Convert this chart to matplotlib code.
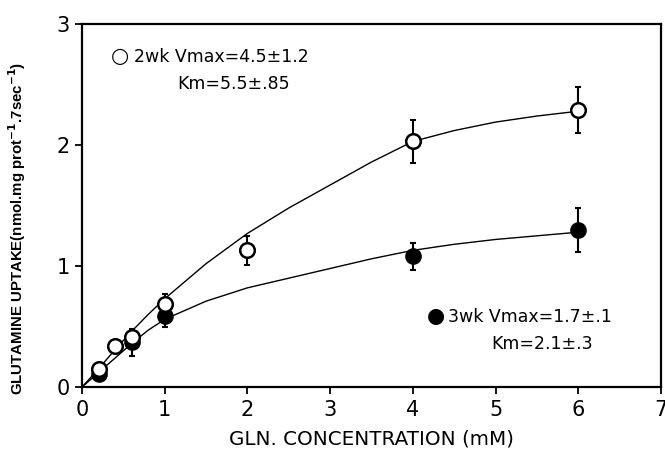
import numpy as np
import matplotlib.pyplot as plt

plt.rcParams['font.family'] = ['DejaVu Sans']

# measured points (mean, SE)
conc_2wk = [0.2, 0.4, 0.6, 1.0, 2.0, 4.0, 6.0]
uptake_2wk = [0.15, 0.34, 0.41, 0.69, 1.13, 2.03, 2.29]
err_2wk = [0.03, 0.02, 0.06, 0.08, 0.12, 0.18, 0.19]

conc_3wk = [0.2, 0.6, 1.0, 4.0, 6.0]
uptake_3wk = [0.11, 0.37, 0.59, 1.08, 1.30]
err_3wk = [0.03, 0.11, 0.09, 0.11, 0.18]

# fitted curves
fit_x = [0.0, 0.2, 0.4, 0.6, 0.8, 1.0, 1.5, 2.0, 2.5, 3.0, 3.5, 4.0, 4.5, 5.0, 5.5, 6.0]
fit_2wk = [0.0, 0.15, 0.31, 0.46, 0.60, 0.73, 1.02, 1.27, 1.48, 1.67, 1.86, 2.03, 2.12, 2.19, 2.24, 2.28]
fit_3wk = [0.0, 0.12, 0.24, 0.36, 0.47, 0.56, 0.71, 0.82, 0.90, 0.98, 1.06, 1.13, 1.18, 1.22, 1.25, 1.28]

fig = plt.figure(figsize=(6.65, 4.63), dpi=100)
ax = fig.add_axes([0.1233, 0.164, 0.8707, 0.784])

ax.plot(fit_x, fit_2wk, color='k', lw=1.0, zorder=2)
ax.plot(fit_x, fit_3wk, color='k', lw=1.0, zorder=2)

ax.errorbar(conc_2wk, uptake_2wk, yerr=err_2wk, fmt='none', ecolor='k',
            elinewidth=1.5, capsize=2.5, capthick=1.5, zorder=3)
ax.errorbar(conc_3wk, uptake_3wk, yerr=err_3wk, fmt='none', ecolor='k',
            elinewidth=1.5, capsize=2.5, capthick=1.5, zorder=3)
ax.plot(conc_3wk, uptake_3wk, 'o', ms=10.5, mfc='k', mec='k', mew=1.5, zorder=4)
ax.plot(conc_2wk, uptake_2wk, 'o', ms=10.5, mfc='white', mec='k', mew=1.8, zorder=5)

# annotations
ax.text(0.46, 2.735, '○', fontsize=15, ha='center', va='center')
ax.text(0.63, 2.725, '2wk Vmax=4.5±1.2', fontsize=12.5, ha='left', va='center')
ax.text(1.15, 2.505, 'Km=5.5±.85', fontsize=12.5, ha='left', va='center')
ax.text(4.28, 0.585, '●', fontsize=15, ha='center', va='center')
ax.text(4.42, 0.58, '3wk Vmax=1.7±.1', fontsize=12.5, ha='left', va='center')
ax.text(4.95, 0.36, 'Km=2.1±.3', fontsize=12.5, ha='left', va='center')

ax.set_xlim(0, 7)
ax.set_ylim(0, 3)
ax.set_xticks(range(0, 8))
ax.set_yticks(range(0, 4))
ax.tick_params(direction='out', length=5, width=1.3, labelsize=15, pad=4)
for s in ax.spines.values():
    s.set_linewidth(1.6)

ax.set_xlabel('GLN. CONCENTRATION (mM)', fontsize=14.3, labelpad=7)
ax.set_ylabel(r'GLUTAMINE UPTAKE(nmol.mg prot$^{\mathbf{-1}}$.7sec$^{\mathbf{-1}}$)',
              fontsize=10.8, fontweight='bold', family='Liberation Sans')
ax.yaxis.set_label_coords(-0.093, 0.438)

fig.savefig('out.png', dpi=100)
